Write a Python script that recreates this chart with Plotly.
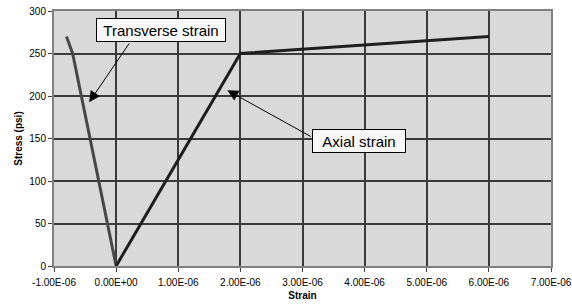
import plotly.graph_objects as go

# Data
transverse_strain = [-0.8e-6, -0.7e-6, 0.0]
transverse_stress = [270, 250, 0]
axial_strain = [0.0, 2e-6, 6e-6]
axial_stress = [0, 250, 270]

x_tickvals = [-1e-6, 0, 1e-6, 2e-6, 3e-6, 4e-6, 5e-6, 6e-6, 7e-6]
x_ticktext = ["-1.00E-06", "0.00E+00", "1.00E-06", "2.00E-06", "3.00E-06",
              "4.00E-06", "5.00E-06", "6.00E-06", "7.00E-06"]
y_tickvals = [0, 50, 100, 150, 200, 250, 300]

FONT = "Liberation Sans, Arial, sans-serif"

fig = go.Figure()
fig.add_trace(go.Scatter(x=transverse_strain, y=transverse_stress, mode="lines",
                         line=dict(color="#474747", width=3), showlegend=False))
fig.add_trace(go.Scatter(x=axial_strain, y=axial_stress, mode="lines",
                         line=dict(color="#1e1e1e", width=3), showlegend=False))

# arrows (no text)
arrow_common = dict(text="", showarrow=True, arrowhead=2, arrowsize=2.2,
                    arrowwidth=1, arrowcolor="black", xref="x", yref="y",
                    axref="x", ayref="y", standoff=0, startstandoff=0)
fig.add_annotation(x=-0.435e-6, y=192.6, ax=0.226e-6, ay=263.5, **arrow_common)
fig.add_annotation(x=1.79e-6, y=206.7, ax=3.156e-6, ay=151.4, **arrow_common)

# label boxes
box_common = dict(showarrow=False, xref="x", yref="y", bgcolor="#f7f7f7",
                  bordercolor="black", borderwidth=1, borderpad=3, height=16,
                  font=dict(family=FONT, size=15, color="black"))
fig.add_annotation(x=0.7226e-6, y=277.3, text="Transverse strain", width=122, **box_common)
fig.add_annotation(x=3.915e-6, y=146.7, text="Axial strain", width=86, **box_common)

fig.update_layout(
    width=572, height=306,
    margin=dict(l=54, r=21, t=11, b=40, pad=0, autoexpand=False),
    paper_bgcolor="white", plot_bgcolor="#d9d9d9",
    font=dict(family=FONT, size=10, color="black"),
    xaxis=dict(range=[-1e-6, 7e-6], tickvals=x_tickvals, ticktext=x_ticktext,
               automargin=False,
               showgrid=True, gridcolor="#3a3a3a", gridwidth=1.5,
               zeroline=False, showline=True, linecolor="#808080", linewidth=2,
               mirror=True, ticks="outside", ticklen=4, tickcolor="#404040",
               tickfont=dict(size=10), ticklabelstandoff=2,
               title=dict(text="<b>Strain</b>", font=dict(size=10), standoff=5)),
    yaxis=dict(range=[0, 300], tickvals=y_tickvals, automargin=False,
               showgrid=True, gridcolor="#3a3a3a", gridwidth=1.5,
               zeroline=False, showline=True, linecolor="#808080", linewidth=2,
               mirror=True, ticks="outside", ticklen=4, tickcolor="#404040",
               tickfont=dict(size=10),
               title=dict(text="<b>Stress (psi)</b>", font=dict(size=10), standoff=5)),
)

fig.write_html("out.html", config={"displayModeBar": False},
               post_script="document.body.style.margin='0';")
